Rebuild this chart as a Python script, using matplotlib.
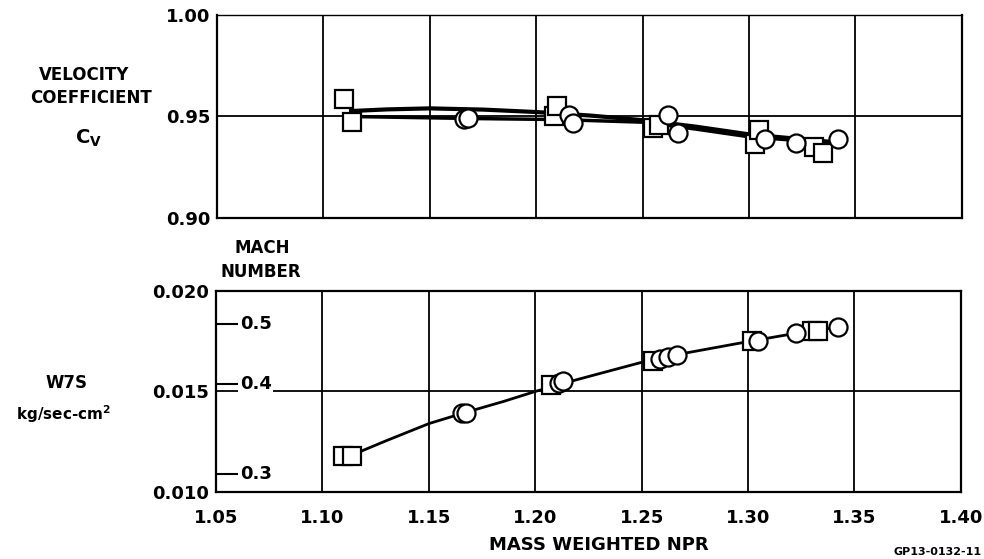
import numpy as np
import matplotlib
matplotlib.use('Agg')
import matplotlib.pyplot as plt

plt.rcParams['font.family'] = ['DejaVu Sans']
plt.rcParams['font.weight'] = 'bold'

# top panel: velocity coefficient
cv_sq_x = [1.1099, 1.1134, 1.2084, 1.2100, 1.2547, 1.2578, 1.3028, 1.3045, 1.3306, 1.3346]
cv_sq_y = [0.9585, 0.9471, 0.9502, 0.9552, 0.9442, 0.9458, 0.9363, 0.9434, 0.9351, 0.9319]
cv_ci_x = [1.1660, 1.1678, 1.2153, 1.2171, 1.2620, 1.2667, 1.3075, 1.3221, 1.3416]
cv_ci_y = [0.9487, 0.9491, 0.9507, 0.9469, 0.9507, 0.9417, 0.9389, 0.9371, 0.9388]

# faired curves
cv_fit1_x = [1.113, 1.13, 1.15, 1.175, 1.20, 1.225, 1.25, 1.275, 1.30, 1.3375]
cv_fit1_y = [0.9527, 0.9535, 0.9540, 0.9534, 0.9522, 0.9505, 0.9482, 0.9450, 0.9412, 0.9376]
cv_fit2_x = [1.113, 1.17, 1.21, 1.25, 1.275, 1.30, 1.3375]
cv_fit2_y = [0.9500, 0.9490, 0.9485, 0.9472, 0.9438, 0.9400, 0.9370]

# bottom panel: W7S
w_sq_x = [1.1097, 1.1140, 1.2075, 1.2553, 1.3019, 1.3300, 1.3329]
w_sq_y = [0.0118, 0.0118, 0.0153, 0.0165, 0.0175, 0.0180, 0.0180]
w_ci_x = [1.1654, 1.1677, 1.2110, 1.2130, 1.2586, 1.2624, 1.2666, 1.3047, 1.3225, 1.3422]
w_ci_y = [0.01395, 0.01395, 0.0154, 0.0155, 0.0166, 0.0167, 0.0168, 0.0175, 0.0179, 0.0182]

w_fit_x = [1.113, 1.13, 1.15, 1.167, 1.185, 1.20, 1.22, 1.25, 1.27, 1.30, 1.32, 1.342]
w_fit_y = [0.0118, 0.01255, 0.01340, 0.01395, 0.01450, 0.01500, 0.01560, 0.01645, 0.01690, 0.01748, 0.01785, 0.0182]

# Mach number scale marks
mach_labels = ['0.3', '0.4', '0.5']
mach_w7s = [0.0109, 0.01537, 0.01836]

x_ticks = [1.05, 1.10, 1.15, 1.20, 1.25, 1.30, 1.35, 1.40]

fig = plt.figure(figsize=(9.84, 5.59), dpi=100)
ax1 = fig.add_axes([0.2205, 0.610, 0.757, 0.3632])
ax2 = fig.add_axes([0.2195, 0.1199, 0.757, 0.3596])

mk = dict(markersize=13, markerfacecolor='white', markeredgecolor='black',
          markeredgewidth=1.6, linestyle='none', zorder=4)

for ax in (ax1, ax2):
    ax.set_xlim(1.05, 1.40)
    ax.set_xticks(x_ticks)
    ax.grid(True, color='black', linewidth=1.3)
    ax.tick_params(length=0, labelsize=13, pad=5)
    for s in ax.spines.values():
        s.set_linewidth(1.6)
    ax.set_axisbelow(True)

ax1.set_ylim(0.90, 1.00)
ax1.set_yticks([0.90, 0.95, 1.00])
ax1.set_yticklabels(['0.90', '0.95', '1.00'])
ax1.tick_params(axis='x', labelbottom=False)
ax1.spines['top'].set_linewidth(1.0)
ax1.plot(cv_fit1_x, cv_fit1_y, color='black', linewidth=3, zorder=3)
ax1.plot(cv_fit2_x, cv_fit2_y, color='black', linewidth=2.5, zorder=3)
ax1.plot(cv_sq_x, cv_sq_y, marker='s', **mk)
ax1.plot(cv_ci_x, cv_ci_y, marker='o', **mk)

ax2.set_ylim(0.010, 0.020)
ax2.set_yticks([0.010, 0.015, 0.020])
ax2.set_yticklabels(['0.010', '0.015', '0.020'])
ax2.set_xticklabels(['%.2f' % v for v in x_ticks])
ax2.tick_params(axis='x', pad=12)
ax2.plot(w_fit_x, w_fit_y, color='black', linewidth=2, zorder=3)
ax2.plot(w_sq_x, w_sq_y, marker='s', **mk)
ax2.plot(w_ci_x, w_ci_y, marker='o', **mk)

# Mach number marks on the left edge
ytr = ax2.get_yaxis_transform()
ax2.hlines(mach_w7s, 0, 0.03, transform=ytr, color='black', linewidth=1.5, zorder=5)
for lab, v in zip(mach_labels, mach_w7s):
    ax2.text(0.032, v, lab, transform=ytr, ha='left', va='center', fontsize=13,
             zorder=5, bbox=dict(facecolor='white', edgecolor='none', pad=1))

# labels
fig.text(0.085, 1 - 75 / 559, 'VELOCITY', ha='center', va='center', fontsize=12)
fig.text(0.092, 1 - 98 / 559, 'COEFFICIENT', ha='center', va='center', fontsize=12)
fig.text(0.09, 1 - 138 / 559, r'C$_\mathregular{V}$', ha='center', va='center', fontsize=14)
fig.text(262 / 984, 1 - 248 / 559, 'MACH', ha='center', va='center', fontsize=12)
fig.text(261 / 984, 1 - 272 / 559, 'NUMBER', ha='center', va='center', fontsize=12)
fig.text(66 / 984, 1 - 383 / 559, 'W7S', ha='center', va='center', fontsize=12)
fig.text(64 / 984, 1 - 414 / 559, r'kg/sec-cm$^\mathregular{2}$', ha='center', va='center', fontsize=11)
fig.text(599 / 984, 1 - 545 / 559, 'MASS WEIGHTED NPR', ha='center', va='center', fontsize=13)
fig.text(982 / 984, 2 / 559, 'GP13-0132-11', ha='right', va='bottom', fontsize=8)

fig.savefig('out.png', dpi=100, facecolor='white')
